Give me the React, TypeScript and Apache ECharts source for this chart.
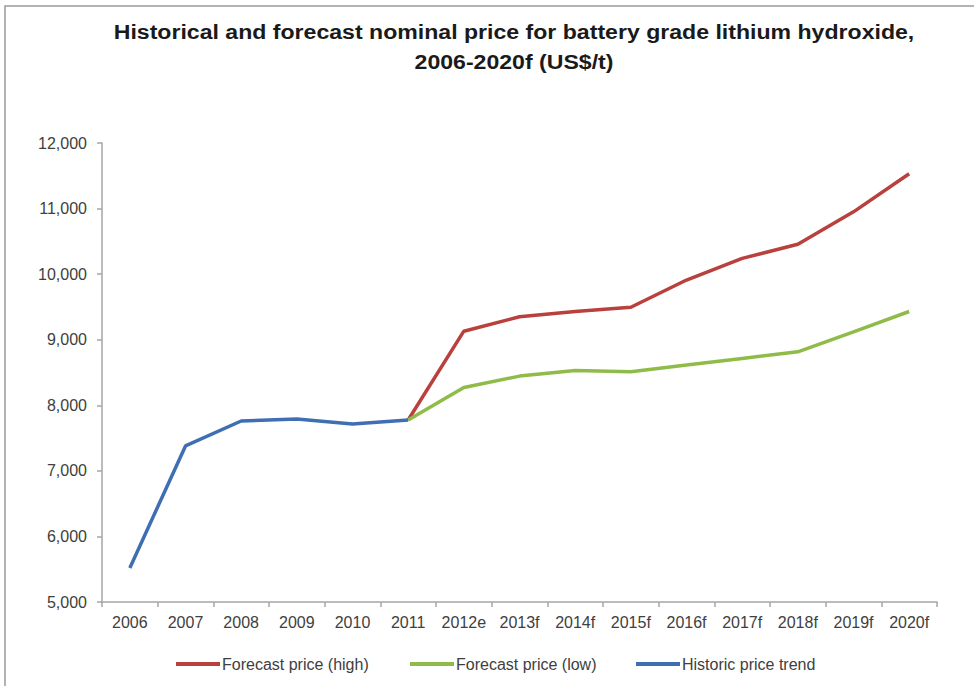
import React, { useEffect, useRef } from "react";
import * as echarts from "echarts";

const categories = ["2006", "2007", "2008", "2009", "2010", "2011", "2012e", "2013f", "2014f", "2015f", "2016f", "2017f", "2018f", "2019f", "2020f"];
const historic = [5520, 7380, 7760, 7790, 7715, 7775, null, null, null, null, null, null, null, null, null];
const forecastHigh = [null, null, null, null, null, 7775, 9130, 9350, 9430, 9495, 9910, 10240, 10455, 10950, 11530];
const forecastLow = [null, null, null, null, null, 7775, 8270, 8445, 8530, 8510, 8615, 8715, 8815, 9120, 9430];
const yTicks = { min: 5000, max: 12000, interval: 1000 };

const FONT = "'Liberation Sans', Arial, sans-serif";

export default function App() {
  const ref = useRef<HTMLDivElement>(null);
  useEffect(() => {
    document.body.style.margin = "0";
    const chart = echarts.init(ref.current!, null, { renderer: "svg" });
    const legendBase = {
      top: 651,
      itemWidth: 44,
      itemHeight: 4,
      icon: "rect",
      itemGap: 0,
      textStyle: { fontFamily: FONT, fontSize: 16, color: "#404040", padding: [0, 0, 0, -3] },
    };
    chart.setOption({
      animation: false,
      backgroundColor: "#ffffff",
      textStyle: { fontFamily: FONT },
      graphic: [
        {
          type: "rect",
          shape: { x: 5, y: 6, width: 1000, height: 700 },
          style: { fill: "none", stroke: "#9a9a9a", lineWidth: 1.5 },
          silent: true,
        },
        {
          type: "text",
          x: 514,
          y: 17,
          scaleX: 1.1,
          originX: 0,
          style: {
            text: "Historical and forecast nominal price for battery grade lithium hydroxide,\n2006-2020f (US$/t)",
            font: `bold 21px ${FONT}`,
            fill: "#1a1a1a",
            textAlign: "center",
            lineHeight: 30,
          },
        },
      ],
      grid: { left: 102, right: 37, top: 143, bottom: 84, containLabel: false },
      legend: [
        { ...legendBase, left: 171, data: ["Forecast price (high)"] },
        { ...legendBase, left: 405, data: ["Forecast price (low)"] },
        { ...legendBase, left: 631, data: ["Historic price trend"] },
      ],
      xAxis: {
        type: "category",
        data: categories,
        boundaryGap: true,
        axisLine: { lineStyle: { color: "#a6a6a6", width: 1.5 } },
        axisTick: { show: true, length: 5, interval: 0, lineStyle: { color: "#a6a6a6", width: 1.5 } },
        axisLabel: { fontSize: 16, color: "#404040", margin: 12, interval: 0, fontFamily: FONT },
        splitLine: { show: false },
      },
      yAxis: {
        type: "value",
        min: yTicks.min,
        max: yTicks.max,
        interval: yTicks.interval,
        axisLine: { show: true, lineStyle: { color: "#a6a6a6", width: 1.5 } },
        axisTick: { show: true, length: 5, lineStyle: { color: "#a6a6a6", width: 1.5 } },
        axisLabel: {
          fontSize: 16,
          color: "#404040",
          margin: 15,
          fontFamily: FONT,
          formatter: (v: number) => v.toLocaleString("en-US"),
        },
        splitLine: { show: false },
      },
      series: [
        {
          name: "Forecast price (high)",
          type: "line",
          data: forecastHigh,
          showSymbol: false,
          symbol: "none",
          lineStyle: { color: "#b9403c", width: 3.5 },
          itemStyle: { color: "#b9403c" },
        },
        {
          name: "Forecast price (low)",
          type: "line",
          data: forecastLow,
          showSymbol: false,
          symbol: "none",
          lineStyle: { color: "#8fbc48", width: 3.5 },
          itemStyle: { color: "#8fbc48" },
        },
        {
          name: "Historic price trend",
          type: "line",
          data: historic,
          showSymbol: false,
          symbol: "none",
          lineStyle: { color: "#3f6fb2", width: 3.5 },
          itemStyle: { color: "#3f6fb2" },
          z: 3,
        },
      ],
    });
    return () => chart.dispose();
  }, []);
  return <div ref={ref} style={{ width: 974, height: 686 }} />;
}
